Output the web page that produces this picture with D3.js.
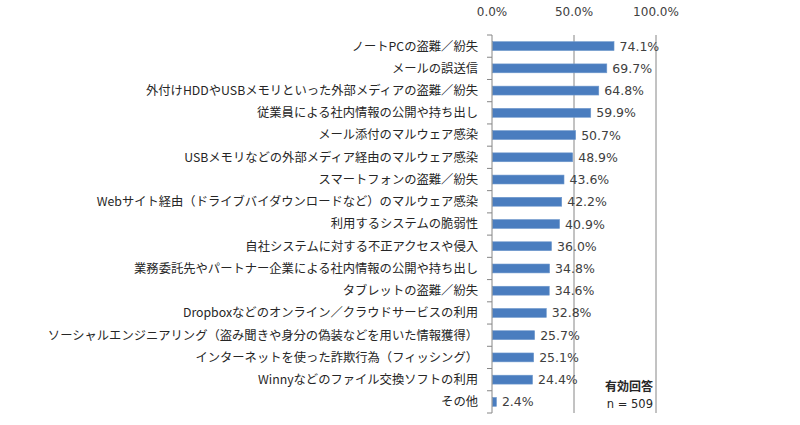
<!DOCTYPE html>
<html>
<head>
<meta charset="utf-8">
<script src="https://cdn.jsdelivr.net/npm/d3@7"></script>
<style>
  body { margin: 0; background: #fff; }
  svg text { fill: #333; }
</style>
</head>
<body>
<div id="chart"></div>
<script>
// categories, top to bottom
const categories = [
  "ノートPCの盗難／紛失",
  "メールの誤送信",
  "外付けHDDやUSBメモリといった外部メディアの盗難／紛失",
  "従業員による社内情報の公開や持ち出し",
  "メール添付のマルウェア感染",
  "USBメモリなどの外部メディア経由のマルウェア感染",
  "スマートフォンの盗難／紛失",
  "Webサイト経由（ドライブバイダウンロードなど）のマルウェア感染",
  "利用するシステムの脆弱性",
  "自社システムに対する不正アクセスや侵入",
  "業務委託先やパートナー企業による社内情報の公開や持ち出し",
  "タブレットの盗難／紛失",
  "Dropboxなどのオンライン／クラウドサービスの利用",
  "ソーシャルエンジニアリング（盗み聞きや身分の偽装などを用いた情報獲得）",
  "インターネットを使った詐欺行為（フィッシング）",
  "Winnyなどのファイル交換ソフトの利用",
  "その他"
];
const values = [74.1, 69.7, 64.8, 59.9, 50.7, 48.9, 43.6, 42.2, 40.9, 36.0, 34.8, 34.6, 32.8, 25.7, 25.1, 24.4, 2.4];
const xTicks = [0, 50, 100];
const noteTitle = "有効回答";
const noteCount = "n = 509";

const W = 800, H = 425;
const margin = {top: 35, left: 492, right: 144, bottom: 12};
const width = W - margin.left - margin.right,
      height = H - margin.top - margin.bottom;

const svg = d3.select("#chart").append("svg")
    .attr("width", W)
    .attr("height", H)
    .append("g")
    .attr("transform", `translate(${margin.left}, ${margin.top})`);

const x = d3.scaleLinear().domain([0, 100]).range([0, width]);
const y = d3.scaleBand().domain(categories).range([0, height]).paddingInner(0.6).paddingOuter(0.3);

// vertical gridlines (50%, 100%)
svg.append("g")
  .selectAll("line")
  .data(xTicks.filter(d => d > 0))
  .enter()
  .append("line")
    .attr("x1", d => x(d)).attr("x2", d => x(d))
    .attr("y1", 0).attr("y2", height)
    .attr("stroke", "#868686")
    .attr("stroke-width", 1)

// top axis labels
svg.append("g")
  .selectAll("text")
  .data(xTicks)
  .enter()
  .append("text")
    .attr("x", d => x(d))
    .attr("y", -19.5)
    .attr("text-anchor", "middle")
    .style("font-family", "DejaVu Sans, Verdana, sans-serif")
    .style("font-size", "12px")
    .style("fill", "#404040")
    .text(d => d.toFixed(1) + "%")

// bars
svg.append("g")
  .selectAll("rect")
  .data(values)
  .enter()
  .append("rect")
    .attr("x", 0.5)
    .attr("y", (d, i) => y(categories[i]))
    .attr("width", d => x(d))
    .attr("height", y.bandwidth())
    .style("fill", "#4a7dbf")
    .style("stroke", "#6f98cc")
    .style("stroke-width", 0.6)

// value labels
svg.append("g")
  .selectAll("text")
  .data(values)
  .enter()
  .append("text")
    .attr("x", d => x(d) + 6)
    .attr("y", (d, i) => y(categories[i]) + y.bandwidth() / 2)
    .attr("dy", "0.36em")
    .style("font-family", "DejaVu Sans, Verdana, sans-serif")
    .style("font-size", "12.5px")
    .style("fill", "#404040")
    .text(d => d.toFixed(1) + "%")

// left axis with ticks at category boundaries
const boundaries = d3.range(categories.length + 1).map(i => i * (height / categories.length));
svg.append("line")
  .attr("x1", 0).attr("x2", 0)
  .attr("y1", 0).attr("y2", height)
  .attr("stroke", "#868686")
svg.append("g")
  .selectAll("line")
  .data(boundaries)
  .enter()
  .append("line")
    .attr("x1", -5).attr("x2", 0)
    .attr("y1", d => d).attr("y2", d => d)
    .attr("stroke", "#868686")

// category labels
svg.append("g")
  .selectAll("text")
  .data(categories)
  .enter()
  .append("text")
    .attr("x", -14)
    .attr("y", d => y(d) + y.bandwidth() / 2)
    .attr("dy", "0.36em")
    .attr("text-anchor", "end")
    .style("font-family", "Noto Sans CJK JP, sans-serif")
    .style("font-size", "12.3px")
    .style("fill", "#262626")
    .text(d => d)

// note (bottom right)
svg.append("text")
  .attr("x", width - 3)
  .attr("y", 355.5)
  .attr("text-anchor", "end")
  .style("font-family", "Noto Sans CJK JP, sans-serif")
  .style("font-size", "12px")
  .style("font-weight", "bold")
  .style("fill", "#262626")
  .text(noteTitle)
svg.append("text")
  .attr("x", width - 3)
  .attr("y", 372.5)
  .attr("text-anchor", "end")
  .style("font-family", "DejaVu Sans, Verdana, sans-serif")
  .style("font-size", "11.5px")
  .style("fill", "#262626")
  .text(noteCount)
</script>
</body>
</html>
